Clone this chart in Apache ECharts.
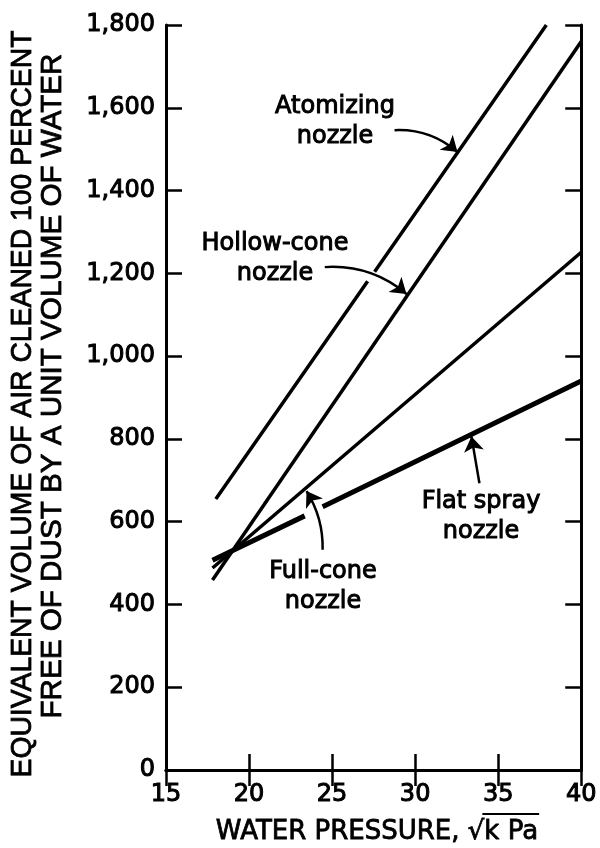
<!DOCTYPE html>
<html>
<head>
<meta charset="utf-8">
<script src="https://cdn.jsdelivr.net/npm/echarts@6/dist/echarts.min.js"></script>
<style>
html,body{margin:0;padding:0;background:#fff;}
#c{width:600px;height:848px;}
</style>
</head>
<body>
<div id="c"></div>
<script>
// ---- data ----
const xTicks = [15, 20, 25, 30, 35, 40];
const yTicks = [0, 200, 400, 600, 800, 1000, 1200, 1400, 1600, 1800];
// line segments; null marks a break in the drawn line
const atomizing = [[18.0, 655], [27.14, 1181], null, [27.56, 1204], [37.9, 1800]];
const hollowCone = [[17.8, 459], [40, 1760]];
const fullCone = [[17.8, 488], [40, 1251]];
const flatSpray = [[17.8, 507], [23.35, 614], null, [24.43, 636], [40, 940]];
// annotation arrows: [from, to]
const atomArrow = [[28.76, 1546], [32.55, 1493]];
const hollowArrow = [[24.56, 1215], [29.48, 1150]];
const fullArrow = [[24.43, 532], [23.46, 674]];
const flatArrow = [[33.87, 693], [33.39, 806]];

const chart = echarts.init(document.getElementById('c'), null, {renderer: 'canvas'});

function fmt(v) { return v.toLocaleString('en-US'); }

function measure(text, font) {
  const ctx = document.createElement('canvas').getContext('2d');
  ctx.font = font;
  return ctx.measureText(text).width;
}

const titleFont = '30px "Liberation Sans"';
const t1 = 'EQUIVALENT VOLUME OF AIR CLEANED 100 PERCENT';
const t2 = 'FREE OF DUST BY A UNIT VOLUME OF WATER';
const s1 = 747 / measure(t1, titleFont);
const s2 = 665 / measure(t2, titleFont);

const axisLine = {show: true, lineStyle: {color: '#000', width: 3}};
const tick = {show: true, inside: true, length: 16, lineStyle: {color: '#000', width: 2.5}};
const labelFont = {fontFamily: 'DejaVu Sans', fontSize: 24, color: '#000',
                   textBorderColor: '#000', textBorderWidth: 1};

function lineSeries(name, data, w) {
  return {
    name, type: 'line', data, showSymbol: false, symbol: 'none',
    connectNulls: false, clip: true,
    lineStyle: {color: '#000', width: w, cap: 'butt'},
    z: 3, silent: true
  };
}
function arrowSeries(data, curv) {
  return {
    type: 'lines', coordinateSystem: 'cartesian2d',
    data: [{coords: data}],
    symbol: ['none', 'arrow'], symbolSize: [0, 15],
    lineStyle: {color: '#000', width: 2.5, curveness: curv, opacity: 1},
    itemStyle: {color: '#000'},
    z: 4, silent: true
  };
}

const noteFont = '24px "DejaVu Sans"';
function note(text, x, y) {
  return {
    type: 'text', x, y, z: 10,
    style: {text, font: noteFont, fill: '#000', stroke: '#000', lineWidth: 1,
            align: 'center', verticalAlign: 'middle',
            textAlign: 'center', textVerticalAlign: 'middle', lineHeight: 30}
  };
}

// x-axis title with a radical overline
const xtFont = '26px "DejaVu Sans"';
const xtHead = 'WATER PRESSURE, \u221A';
const xtTail = 'k Pa';
const xtW = measure(xtHead + xtTail, xtFont);
const xtLeft = 377 - xtW / 2;
const olX1 = xtLeft + measure(xtHead, xtFont) - 2;
const olX2 = xtLeft + xtW + 1;

chart.setOption({
  backgroundColor: '#fff',
  animation: false,
  grid: {left: 166, right: 18, top: 25, bottom: 78, containLabel: false},
  xAxis: [
    {type: 'value', min: 15, max: 40, interval: 5, position: 'bottom',
     axisLine, axisTick: tick, splitLine: {show: false},
     axisLabel: Object.assign({margin: 13, formatter: v => xTicks.includes(v) ? String(v) : ''}, labelFont)},
    {type: 'value', min: 15, max: 40, interval: 5, position: 'top',
     axisLine, axisTick: tick, splitLine: {show: false}, axisLabel: {show: false}}
  ],
  yAxis: [
    {type: 'value', min: 0, max: 1800, interval: 200, position: 'left',
     axisLine, axisTick: tick, splitLine: {show: false},
     axisLabel: Object.assign({margin: 11, formatter: v => yTicks.includes(v) ? fmt(v) : ''}, labelFont)},
    {type: 'value', min: 0, max: 1800, interval: 200, position: 'right',
     axisLine, axisTick: tick, splitLine: {show: false}, axisLabel: {show: false}}
  ],
  series: [
    lineSeries('Atomizing nozzle', atomizing, 3.5),
    lineSeries('Hollow-cone nozzle', hollowCone, 3.5),
    lineSeries('Full-cone nozzle', fullCone, 3.5),
    lineSeries('Flat spray nozzle', flatSpray, 5),
    arrowSeries(atomArrow, 0.2),
    arrowSeries(hollowArrow, 0.2),
    arrowSeries(fullArrow, -0.15),
    arrowSeries(flatArrow, 0)
  ],
  graphic: [
    note('Atomizing\nnozzle', 335, 122),
    note('Hollow-cone\nnozzle', 275, 259),
    note('Full-cone\nnozzle', 323, 587),
    note('Flat spray\nnozzle', 481, 517),
    {type: 'text', x: 22.5, y: 404, rotation: Math.PI / 2, scaleX: s1, scaleY: 1,
     style: {text: t1, font: titleFont, fill: '#000', stroke: '#000', lineWidth: 0.8,
             align: 'center', verticalAlign: 'middle', textAlign: 'center', textVerticalAlign: 'middle'}},
    {type: 'text', x: 53, y: 386, rotation: Math.PI / 2, scaleX: s2, scaleY: 1,
     style: {text: t2, font: titleFont, fill: '#000', stroke: '#000', lineWidth: 0.8,
             align: 'center', verticalAlign: 'middle', textAlign: 'center', textVerticalAlign: 'middle'}},
    {type: 'text', x: xtLeft, y: 832,
     style: {text: xtHead + xtTail, font: xtFont, fill: '#000', stroke: '#000', lineWidth: 0.8,
             align: 'left', verticalAlign: 'middle', textAlign: 'left', textVerticalAlign: 'middle'}},
    {type: 'line', shape: {x1: olX1, y1: 814, x2: olX2, y2: 814},
     style: {stroke: '#000', lineWidth: 2}}
  ]
});
</script>
</body>
</html>
